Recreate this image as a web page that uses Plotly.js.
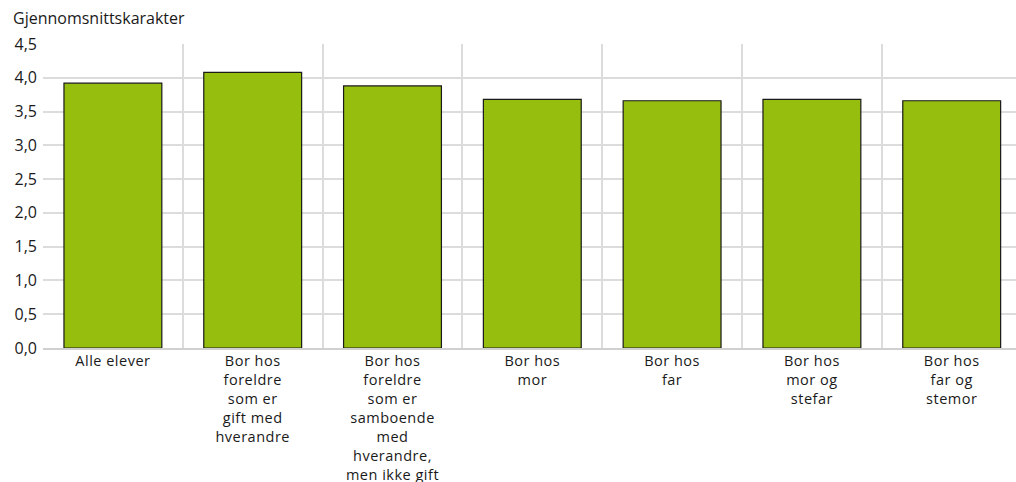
<!DOCTYPE html>
<html>
<head>
<meta charset="utf-8">
<script src="https://cdn.plot.ly/plotly-3.0.1.min.js"></script>
<style>html,body{margin:0;padding:0;background:#fff;}#chart{width:1016px;height:482px;}
#chart .xtick text{letter-spacing:0.5px;}</style>
</head>
<body>
<div id="chart"></div>
<script>
const categories = [
  "Alle elever",
  "Bor hos<br>foreldre<br>som er<br>gift med<br>hverandre",
  "Bor hos<br>foreldre<br>som er<br>samboende<br>med<br>hverandre,<br>men ikke gift",
  "Bor hos<br>mor",
  "Bor hos<br>far",
  "Bor hos<br>mor og<br>stefar",
  "Bor hos<br>far og<br>stemor"
];
const values = [3.92, 4.08, 3.88, 3.68, 3.66, 3.68, 3.66];
const yTitle = "Gjennomsnittskarakter";

const font = "'Open Sans', 'Noto Sans', sans-serif";
const xIdx = categories.map((c, i) => i);
const plotW = 1016 - 43;
const xRange = [-0.5, -0.5 + plotW / 139.8];

const data = [{
  type: 'bar',
  x: xIdx,
  y: values,
  marker: {color: '#96be0e', line: {color: '#1a1a1a', width: 1.2}},
  width: 0.7,
  hoverinfo: 'skip'
}, {
  type: 'scatter', x: [0], y: [0], xaxis: 'x2', mode: 'markers',
  marker: {opacity: 0}, hoverinfo: 'skip', showlegend: false
}];

const layout = {
  width: 1016, height: 482,
  margin: {l: 43, r: 0, t: 44, b: 134, pad: 0},
  paper_bgcolor: '#fff', plot_bgcolor: '#fff',
  showlegend: false,
  separators: ', ',
  font: {family: font, size: 14, color: '#1a1a1a'},
  xaxis: {
    range: xRange,
    tickmode: 'array', tickvals: xIdx, ticktext: categories,
    showgrid: false, zeroline: false,
    showline: true, linecolor: '#d0d0d0', linewidth: 2,
    ticks: '', tickfont: {size: 14.5, color: '#1a1a1a'},
    ticklabelstandoff: -1,
    fixedrange: true
  },
  xaxis2: {
    overlaying: 'x', range: xRange,
    tickmode: 'linear', tick0: -0.5, dtick: 1,
    showgrid: true, gridcolor: '#dcdcdc', gridwidth: 2,
    showticklabels: false, zeroline: false, showline: false, ticks: '',
    layer: 'below traces'
  },
  yaxis: {
    range: [0, 4.5], dtick: 0.5, tick0: 0, tickformat: '.1f',
    showgrid: true, gridcolor: '#dcdcdc', gridwidth: 2,
    zeroline: false, showline: false, ticks: '',
    tickfont: {size: 16, color: '#1a1a1a'},
    ticklabelstandoff: 5,
    fixedrange: true
  },
  annotations: [{
    text: yTitle, xref: 'paper', yref: 'paper',
    x: (11 - 43) / plotW, y: 1 + (44 - 18) / (482 - 44 - 134),
    xanchor: 'left', yanchor: 'middle', showarrow: false,
    font: {size: 16, color: '#1a1a1a'}
  }]
};

Plotly.newPlot('chart', data, layout, {displayModeBar: false, staticPlot: true});
</script>
</body>
</html>
